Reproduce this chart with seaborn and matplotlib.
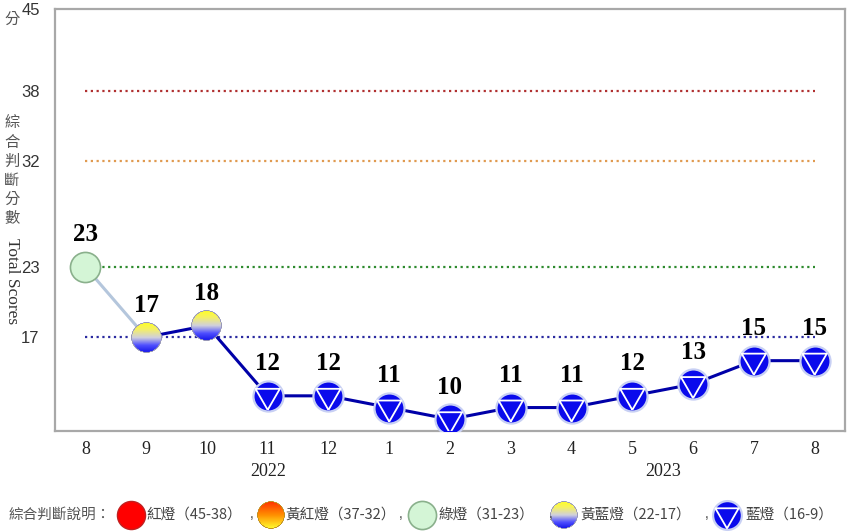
import numpy as np
import pandas as pd
import matplotlib
matplotlib.use("Agg")
import matplotlib.pyplot as plt
import matplotlib.transforms as mtransforms
from matplotlib.offsetbox import OffsetImage, AnnotationBbox
import seaborn as sns

# ---------------------------------------------------------------
# data
# ---------------------------------------------------------------
months = ['8', '9', '10', '11', '12', '1', '2', '3', '4', '5', '6', '7', '8']
scores = [23, 17, 18, 12, 12, 11, 10, 11, 11, 12, 13, 15, 15]
lights = ['green', 'yellowblue', 'yellowblue', 'blue', 'blue', 'blue', 'blue',
          'blue', 'blue', 'blue', 'blue', 'blue', 'blue']
years = ['2022', '2023']
year_pos = [3, 9.5]
thresholds = [38, 32, 23, 17]
threshold_colors = ['#b03030', '#e09a50', '#2e8b2e', '#2a2aa0']
ytick_vals = [17, 23, 32, 38, 45]
legend_labels = ['紅燈（45-38）', '黃紅燈（37-32）', '綠燈（31-23）', '黃藍燈（22-17）', '藍燈（16-9）']

df = pd.DataFrame({'x': range(len(scores)), 'month': months, 'score': scores, 'light': lights})

sns.set_style('white')
plt.rcParams['font.family'] = ['Noto Sans CJK TC', 'DejaVu Sans']

SERIF = 'Liberation Serif'
SANS = 'Liberation Sans'
CJK = ['Noto Sans CJK TC', 'DejaVu Sans']


def ball(stops, edge, n=90):
    # round icon with a vertical colour gradient, as RGBA array
    yy, xx = np.mgrid[0:n, 0:n]
    c = (n - 1) / 2
    r = np.hypot(xx - c, yy - c) / (n / 2)
    t = yy / (n - 1)
    pos = [s[0] for s in stops]
    img = np.zeros((n, n, 4))
    for k in range(3):
        img[..., k] = np.interp(t, pos, [s[1][k] for s in stops])
    e = np.array(matplotlib.colors.to_rgb(edge))
    ring = r > 0.92
    img[ring, :3] = e
    img[..., 3] = np.clip((1 - r) * n / 2, 0, 1)
    return img


rgb = matplotlib.colors.to_rgb
yb_img = ball([(0.0, rgb('#ffff20')), (0.22, rgb('#f6f260')), (0.5, rgb('#d0d0dc')),
               (0.75, rgb('#5050ff')), (1.0, rgb('#1010e8'))], '#9898b8')
or_img = ball([(0.0, rgb('#ff3000')), (0.5, rgb('#ff9000')), (1.0, rgb('#ffff30'))], '#c09020')

fig = plt.figure(figsize=(8.54, 5.32), dpi=100)
ax = fig.add_axes([55 / 854, 101 / 532, 790 / 854, 422 / 532])

# threshold lines
for th, col in zip(thresholds, threshold_colors):
    ax.plot([0, len(scores) - 1], [th, th], color=col, linestyle=(0, (1, 1.6)), linewidth=1.6, zorder=1)

# line
sns.lineplot(data=df.iloc[:2], x='x', y='score', color='#b4c6dc', linewidth=2.2, ax=ax, zorder=2)
sns.lineplot(data=df.iloc[1:], x='x', y='score', color='#0000a8', linewidth=2.2, ax=ax, zorder=2)

# markers
tri = [(0, -1), (0.866, 0.5), (-0.866, 0.5), (0, -1)]
green = df[df.light == 'green']
blue = df[df.light == 'blue']
sns.scatterplot(data=green, x='x', y='score', marker='o', s=470, color='#d4f5d6',
                edgecolor='#8ab08c', linewidth=1.2, ax=ax, zorder=4)
sns.scatterplot(data=blue, x='x', y='score', marker='o', s=470, color='#0a0aec',
                edgecolor='#c8d0f4', linewidth=1.6, ax=ax, zorder=4)
sns.scatterplot(data=blue, x='x', y='score', marker=tri, s=410, facecolor='none',
                edgecolor='white', linewidth=1.3, ax=ax, zorder=5)
for _, row in df[df.light == 'yellowblue'].iterrows():
    ab = AnnotationBbox(OffsetImage(yb_img, zoom=31 / 90, dpi_cor=False), (row.x, row.score),
                        frameon=False, pad=0, zorder=4)
    ax.add_artist(ab)

# value labels
for i, v in enumerate(scores):
    ax.annotate(str(v), (i, v), xytext=(0, 23), textcoords='offset points', ha='center', va='center',
                fontsize=18, fontweight='bold', family=SERIF, color='black', zorder=6)

ax.set_xlim(-0.5, len(scores) - 0.5)
ax.set_ylim(9, 45)
ax.set_xticks(range(len(months)))
ax.set_xticklabels(months, family=SERIF, fontsize=13, color='#222222')
ax.set_yticks(ytick_vals)
ax.set_yticklabels([str(v) for v in ytick_vals], family=SANS, fontsize=12, color='#333333')
ax.tick_params(axis='both', length=0)
ax.tick_params(axis='x', pad=7)
ax.tick_params(axis='y', pad=11)
ax.set_xlabel('')
ax.set_ylabel('')
for sp in ax.spines.values():
    sp.set_color('#a8a8a8')
    sp.set_linewidth(1.6)

# year labels
trans = mtransforms.blended_transform_factory(ax.transData, ax.transAxes)
for yr, xp in zip(years, year_pos):
    ax.text(xp, -41 / 422, yr, transform=trans, ha='center', va='center',
            family=SERIF, fontsize=13, color='#222222')

# y axis title
fig.text(12 / 854, 1 - 19 / 532, '分', ha='center', va='center', fontsize=11, color='#555555', family=CJK)
for k, ch in enumerate('綜合判斷分數'):
    fig.text(12 / 854, 1 - (123 + k * 19) / 532, ch, ha='center', va='center',
             fontsize=11, color='#555555', family=CJK)
fig.text(12 / 854, 1 - 281 / 532, 'Total Scores', rotation=270, ha='center', va='center',
         fontsize=12.5, color='#333333', family=SERIF)

# bottom legend
lax = fig.add_axes([0, 0, 1, 34 / 532])
lax.set_xlim(0, 854)
lax.set_ylim(0, 34)
lax.axis('off')
ly = 17
lax.text(9, ly, '綜合判斷說明：', ha='left', va='center', fontsize=10.5, color='#555555', family=CJK)
icon_x = [131, 271, 422, 564, 727]
text_x = [146, 285, 439, 580, 745]
comma_x = [252, 401, 551, 707]
lax.scatter([icon_x[0]], [ly], s=410, color='#ff0000', edgecolor='#c02020', linewidth=1, zorder=3)
lax.scatter([icon_x[2]], [ly], s=410, color='#d4f5d6', edgecolor='#8ab08c', linewidth=1.2, zorder=3)
lax.scatter([icon_x[4]], [ly], s=430, color='#0a0aec', edgecolor='#c8d0f4', linewidth=1.6, zorder=3)
lax.scatter([icon_x[4]], [ly], s=375, marker=tri, facecolor='none', edgecolor='white', linewidth=1.3, zorder=4)
for img, xp in [(or_img, icon_x[1]), (yb_img, icon_x[3])]:
    lax.add_artist(AnnotationBbox(OffsetImage(img, zoom=28 / 90, dpi_cor=False), (xp, ly),
                                  frameon=False, pad=0, zorder=3))
for lab, xp in zip(legend_labels, text_x):
    lax.text(xp, ly, lab, ha='left', va='center', fontsize=10.5, color='#444444', family=CJK)
for xp in comma_x:
    lax.text(xp, ly + 1, ',', ha='center', va='center', fontsize=10, color='#444444', family=SANS)

fig.savefig('out.png', dpi=100)
